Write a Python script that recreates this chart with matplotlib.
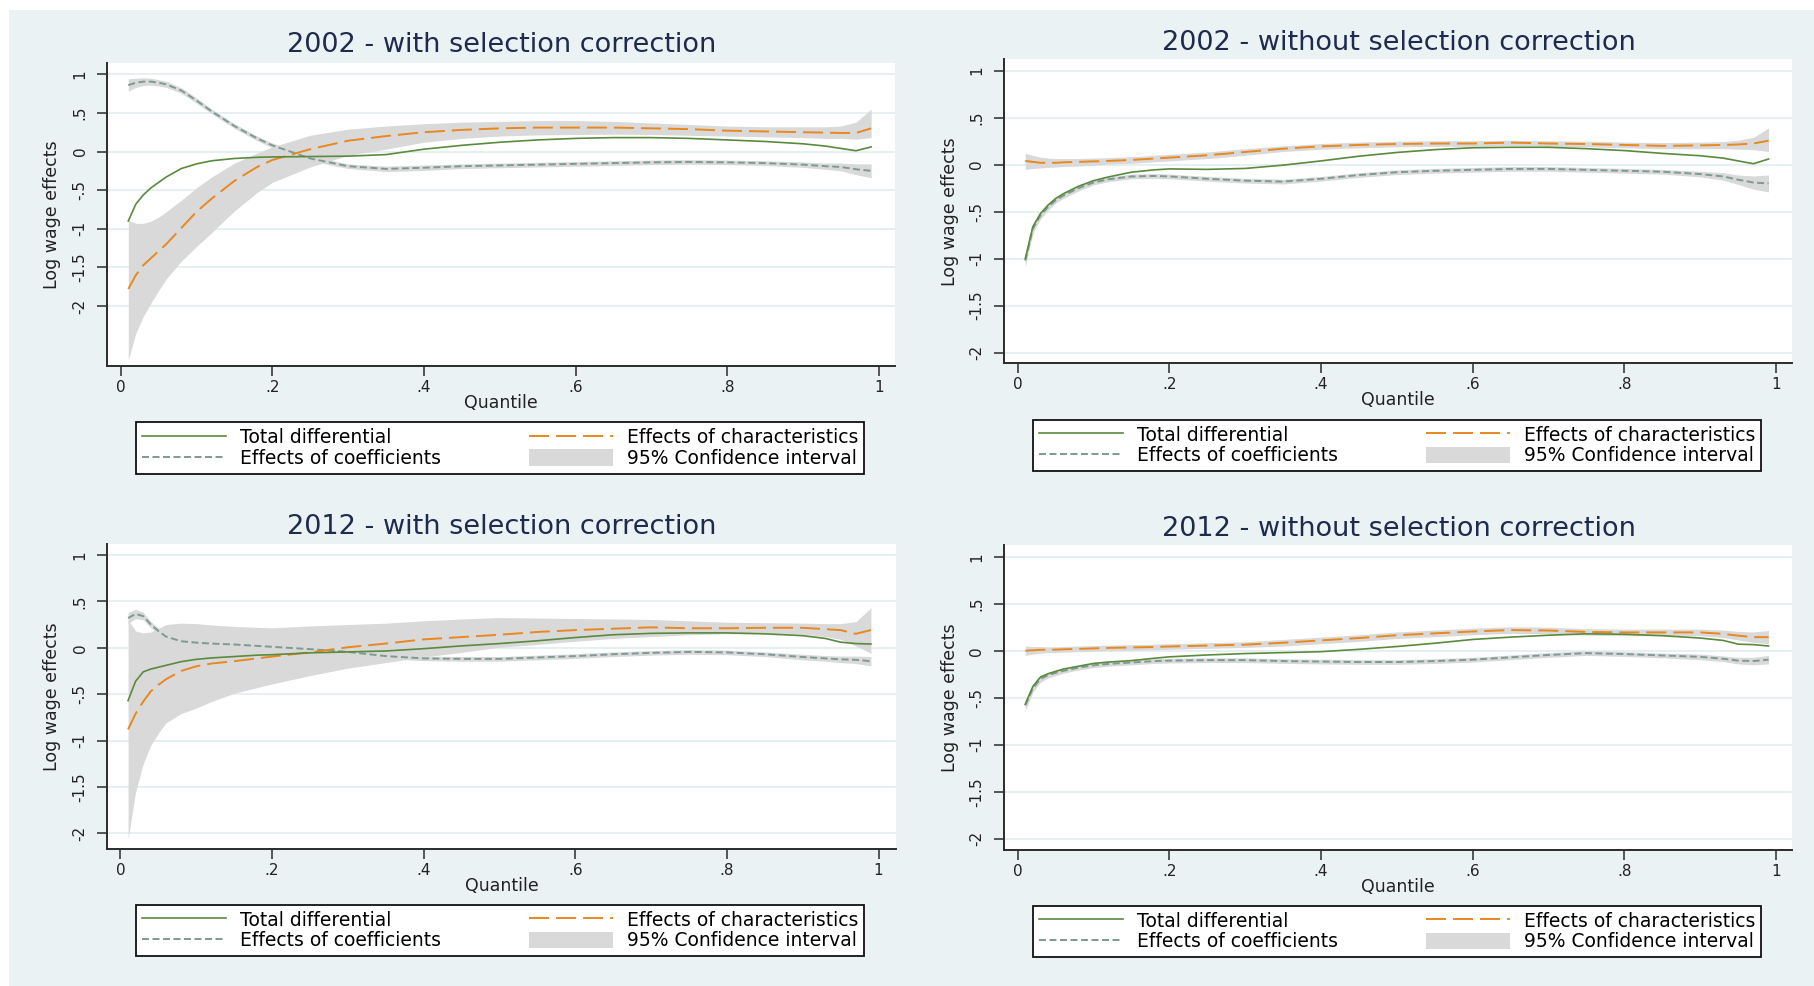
import matplotlib
matplotlib.use("Agg")
import matplotlib.pyplot as plt
from matplotlib.patches import Rectangle, Patch
from matplotlib.lines import Line2D

plt.rcParams['font.family'] = ['DejaVu Sans']

# ---------------- data ----------------
quantiles = [0.01, 0.02, 0.03, 0.04, 0.05, 0.06, 0.08, 0.10, 0.12, 0.15, 0.18, 0.20,
             0.25, 0.30, 0.35, 0.40, 0.45, 0.50, 0.55, 0.60, 0.65, 0.70, 0.75, 0.80,
             0.85, 0.90, 0.93, 0.95, 0.97, 0.99]

titles = ["2002 - with selection correction", "2002 - without selection correction",
          "2012 - with selection correction", "2012 - without selection correction"]

# 2002 with selection correction
total_02s = [-0.90, -0.68, -0.56, -0.47, -0.40, -0.33, -0.22, -0.16, -0.12, -0.09, -0.075, -0.07,
             -0.065, -0.06, -0.04, 0.03, 0.08, 0.12, 0.15, 0.17, 0.18, 0.18, 0.17, 0.15,
             0.13, 0.10, 0.07, 0.04, 0.01, 0.06]
char_02s = [-1.78, -1.60, -1.47, -1.38, -1.29, -1.20, -0.99, -0.78, -0.61, -0.38, -0.20, -0.11,
            0.03, 0.14, 0.20, 0.25, 0.28, 0.30, 0.31, 0.31, 0.31, 0.30, 0.29, 0.27,
            0.26, 0.25, 0.245, 0.24, 0.24, 0.30]
char_hi_02s = [-0.89, -0.93, -0.93, -0.90, -0.85, -0.78, -0.63, -0.47, -0.33, -0.15, -0.02, 0.06,
               0.21, 0.29, 0.33, 0.36, 0.38, 0.39, 0.40, 0.40, 0.39, 0.37, 0.35, 0.33,
               0.32, 0.32, 0.32, 0.33, 0.38, 0.55]
char_lo_02s = [-2.70, -2.35, -2.13, -1.96, -1.80, -1.65, -1.42, -1.23, -1.05, -0.77, -0.53, -0.40,
               -0.20, -0.05, 0.03, 0.12, 0.17, 0.20, 0.215, 0.22, 0.225, 0.22, 0.21, 0.20,
               0.19, 0.18, 0.17, 0.17, 0.16, 0.18]
coef_02s = [0.86, 0.89, 0.905, 0.905, 0.89, 0.87, 0.79, 0.66, 0.52, 0.33, 0.17, 0.08,
            -0.09, -0.19, -0.225, -0.21, -0.19, -0.18, -0.17, -0.16, -0.15, -0.14, -0.135, -0.14,
            -0.15, -0.17, -0.19, -0.20, -0.23, -0.25]
coef_hw_02s = [0.08, 0.06, 0.05, 0.045, 0.04, 0.04, 0.035, 0.035, 0.03, 0.03, 0.03, 0.03,
               0.03, 0.03, 0.035, 0.035, 0.03, 0.03, 0.03, 0.03, 0.03, 0.03, 0.03, 0.03,
               0.03, 0.035, 0.04, 0.05, 0.07, 0.09]

# 2002 without selection correction
total_02n = [-1.00, -0.66, -0.52, -0.43, -0.36, -0.31, -0.23, -0.17, -0.13, -0.08, -0.055, -0.045,
             -0.05, -0.04, -0.005, 0.04, 0.09, 0.13, 0.16, 0.18, 0.185, 0.185, 0.17, 0.15,
             0.12, 0.095, 0.07, 0.04, 0.01, 0.06]
char_02n = [0.04, 0.03, 0.02, 0.02, 0.02, 0.025, 0.03, 0.035, 0.04, 0.05, 0.065, 0.075,
            0.10, 0.135, 0.17, 0.195, 0.21, 0.22, 0.225, 0.225, 0.235, 0.225, 0.22, 0.21,
            0.20, 0.205, 0.21, 0.215, 0.225, 0.255]
char_hi_02n = [0.12, 0.10, 0.08, 0.07, 0.065, 0.065, 0.065, 0.07, 0.075, 0.085, 0.10, 0.11,
               0.135, 0.17, 0.20, 0.225, 0.24, 0.25, 0.255, 0.255, 0.26, 0.255, 0.25, 0.24,
               0.235, 0.24, 0.245, 0.26, 0.29, 0.39]
char_lo_02n = [-0.05, -0.04, -0.035, -0.03, -0.025, -0.02, -0.015, -0.005, 0.005, 0.015, 0.03, 0.04,
               0.065, 0.10, 0.14, 0.165, 0.18, 0.19, 0.195, 0.195, 0.205, 0.195, 0.19, 0.18,
               0.17, 0.17, 0.17, 0.165, 0.16, 0.14]
coef_02n = [-1.02, -0.68, -0.54, -0.45, -0.38, -0.33, -0.25, -0.19, -0.155, -0.125, -0.12, -0.125,
            -0.15, -0.17, -0.18, -0.15, -0.11, -0.08, -0.065, -0.055, -0.045, -0.045, -0.055, -0.065,
            -0.075, -0.10, -0.125, -0.16, -0.19, -0.20]
coef_hw_02n = [0.07, 0.05, 0.04, 0.035, 0.03, 0.03, 0.03, 0.025, 0.025, 0.025, 0.025, 0.025,
               0.025, 0.025, 0.025, 0.025, 0.025, 0.025, 0.025, 0.025, 0.025, 0.025, 0.025, 0.025,
               0.025, 0.03, 0.04, 0.05, 0.07, 0.09]

# 2012 with selection correction
total_12s = [-0.57, -0.36, -0.26, -0.23, -0.21, -0.19, -0.15, -0.125, -0.11, -0.095, -0.08, -0.075,
             -0.055, -0.045, -0.035, -0.01, 0.02, 0.045, 0.075, 0.11, 0.14, 0.155, 0.16, 0.16,
             0.15, 0.13, 0.10, 0.06, 0.045, 0.04]
char_12s = [-0.88, -0.71, -0.58, -0.47, -0.40, -0.34, -0.25, -0.20, -0.17, -0.145, -0.115, -0.095,
            -0.05, 0.005, 0.045, 0.09, 0.115, 0.14, 0.17, 0.19, 0.205, 0.22, 0.21, 0.21,
            0.215, 0.215, 0.20, 0.19, 0.15, 0.19]
char_hi_12s = [0.30, 0.18, 0.16, 0.17, 0.21, 0.25, 0.265, 0.26, 0.245, 0.23, 0.22, 0.215,
               0.235, 0.25, 0.265, 0.29, 0.31, 0.325, 0.32, 0.315, 0.31, 0.305, 0.29, 0.275,
               0.27, 0.265, 0.26, 0.26, 0.28, 0.43]
char_lo_12s = [-2.06, -1.55, -1.25, -1.05, -0.92, -0.81, -0.71, -0.65, -0.58, -0.49, -0.43, -0.39,
               -0.30, -0.22, -0.16, -0.10, -0.05, 0.005, 0.035, 0.07, 0.10, 0.12, 0.14, 0.15,
               0.15, 0.145, 0.12, 0.09, 0.02, -0.06]
coef_12s = [0.32, 0.365, 0.34, 0.25, 0.18, 0.12, 0.07, 0.055, 0.045, 0.035, 0.02, 0.01,
            -0.015, -0.045, -0.09, -0.115, -0.12, -0.12, -0.105, -0.09, -0.07, -0.055, -0.045, -0.05,
            -0.07, -0.10, -0.115, -0.125, -0.13, -0.145]
coef_hw_12s = [0.06, 0.05, 0.04, 0.035, 0.03, 0.03, 0.025, 0.025, 0.025, 0.025, 0.025, 0.025,
               0.025, 0.025, 0.025, 0.025, 0.025, 0.025, 0.025, 0.025, 0.025, 0.025, 0.025, 0.025,
               0.025, 0.03, 0.03, 0.035, 0.04, 0.05]

# 2012 without selection correction
total_12n = [-0.57, -0.38, -0.28, -0.245, -0.22, -0.195, -0.165, -0.135, -0.12, -0.105, -0.08, -0.065,
             -0.045, -0.03, -0.02, -0.01, 0.015, 0.045, 0.08, 0.12, 0.145, 0.165, 0.18, 0.175,
             0.16, 0.135, 0.11, 0.07, 0.065, 0.05]
char_12n = [0.00, 0.005, 0.01, 0.01, 0.012, 0.015, 0.02, 0.025, 0.03, 0.035, 0.04, 0.045,
            0.055, 0.065, 0.085, 0.11, 0.135, 0.165, 0.185, 0.205, 0.22, 0.215, 0.20, 0.195,
            0.195, 0.195, 0.18, 0.16, 0.145, 0.145]
char_hi_12n = [0.05, 0.045, 0.045, 0.04, 0.042, 0.045, 0.05, 0.055, 0.06, 0.065, 0.07, 0.075,
               0.085, 0.095, 0.12, 0.145, 0.17, 0.20, 0.22, 0.24, 0.255, 0.25, 0.235, 0.23,
               0.23, 0.23, 0.22, 0.205, 0.20, 0.215]
char_lo_12n = [-0.05, -0.035, -0.025, -0.02, -0.018, -0.015, -0.01, -0.005, 0.0, 0.005, 0.01, 0.015,
               0.025, 0.035, 0.05, 0.075, 0.10, 0.13, 0.15, 0.17, 0.185, 0.18, 0.165, 0.16,
               0.16, 0.16, 0.14, 0.115, 0.09, 0.075]
coef_12n = [-0.58, -0.40, -0.30, -0.26, -0.235, -0.215, -0.18, -0.155, -0.14, -0.125, -0.11, -0.105,
            -0.10, -0.10, -0.11, -0.115, -0.12, -0.12, -0.11, -0.095, -0.07, -0.045, -0.025, -0.035,
            -0.05, -0.065, -0.085, -0.105, -0.11, -0.095]
coef_hw_12n = [0.06, 0.04, 0.035, 0.03, 0.03, 0.025, 0.025, 0.025, 0.025, 0.025, 0.025, 0.025,
               0.025, 0.025, 0.025, 0.025, 0.025, 0.025, 0.025, 0.025, 0.025, 0.025, 0.025, 0.025,
               0.025, 0.03, 0.03, 0.035, 0.04, 0.045]

x_ticks = [0, 0.2, 0.4, 0.6, 0.8, 1.0]
x_tick_labels = ["0", ".2", ".4", ".6", ".8", "1"]
y_ticks = [1, 0.5, 0, -0.5, -1, -1.5, -2]
y_tick_labels = ["1", ".5", "0", "-.5", "-1", "-1.5", "-2"]
legend_labels = ["Total differential", "Effects of coefficients",
                 "Effects of characteristics", "95% Confidence interval"]

series = [
    (total_02s, char_02s, char_lo_02s, char_hi_02s, coef_02s, coef_hw_02s),
    (total_02n, char_02n, char_lo_02n, char_hi_02n, coef_02n, coef_hw_02n),
    (total_12s, char_12s, char_lo_12s, char_hi_12s, coef_12s, coef_hw_12s),
    (total_12n, char_12n, char_lo_12n, char_hi_12n, coef_12n, coef_hw_12n),
]

# ---------------- layout (pixels) ----------------
W, H = 1814, 986
BG = '#EAF2F3'
C_TOTAL = '#5A8A3C'
C_CHAR = '#E8881E'
C_COEF = '#7D9A93'
C_CI = '#D9D9D9'
C_TITLE = '#1E2B4E'

panels = [
    dict(box=(107.3, 62.7, 894.5, 366.0), xlim=(-0.0177, 1.0208), ylim=(-2.777, 1.150),
         title=(502, 45), leg=(136, 421, 864, 475), ylab_x=52),
    dict(box=(1003.8, 59.3, 1791.9, 363.3), xlim=(-0.0183, 1.0208), ylim=(-2.113, 1.121),
         title=(1399, 43), leg=(1033, 418, 1761, 473), ylab_x=949.5),
    dict(box=(107.3, 544.0, 895.5, 849.0), xlim=(-0.0174, 1.0224), ylim=(-2.169, 1.118),
         title=(502, 527), leg=(136, 903, 864, 958), ylab_x=52),
    dict(box=(1003.8, 545.0, 1791.9, 850.0), xlim=(-0.0183, 1.0208), ylim=(-2.12, 1.125),
         title=(1399, 529), leg=(1033, 904, 1761, 959), ylab_x=949.5),
]

fig = plt.figure(figsize=(W / 100, H / 100), dpi=100, facecolor='white')
fig.patches.append(Rectangle((9 / W, 0), 1 - 9 / W, 1 - 10 / H, transform=fig.transFigure,
                             facecolor=BG, edgecolor='none', zorder=-10))

for i, p in enumerate(panels):
    l, t, r, b = p['box']
    ax = fig.add_axes([l / W, 1 - b / H, (r - l) / W, (b - t) / H])
    total, ch, ch_lo, ch_hi, coef, coef_hw = series[i]
    coef_lo = [c - h for c, h in zip(coef, coef_hw)]
    coef_hi = [c + h for c, h in zip(coef, coef_hw)]

    ax.set_facecolor('white')
    ax.fill_between(quantiles, ch_lo, ch_hi, color=C_CI, lw=0, zorder=1)
    ax.fill_between(quantiles, coef_lo, coef_hi, color=C_CI, lw=0, zorder=1)
    ax.plot(quantiles, coef, color=C_COEF, lw=1.4, ls=(0, (3.6, 1.8)), zorder=3)
    ax.plot(quantiles, ch, color=C_CHAR, lw=1.4, ls=(0, (10.3, 3.6)), zorder=3)
    ax.plot(quantiles, total, color=C_TOTAL, lw=1.2, ls='-', zorder=4)

    ax.set_xlim(*p['xlim'])
    ax.set_ylim(*p['ylim'])
    ax.set_xticks(x_ticks)
    ax.set_xticklabels(x_tick_labels)
    ax.set_yticks(y_ticks)
    ax.set_yticklabels(y_tick_labels, rotation=90, va='center')
    ax.yaxis.grid(True, color='#E3EDEF', lw=1.2, zorder=0)
    ax.set_axisbelow(True)
    for s in ('top', 'right'):
        ax.spines[s].set_visible(False)
    for s in ('left', 'bottom'):
        ax.spines[s].set_color('#2b2b2b')
        ax.spines[s].set_linewidth(1.4)
    ax.tick_params(axis='both', direction='out', length=7.2, width=1.1, color='#2b2b2b',
                   labelsize=11, labelcolor='#222222')
    ax.tick_params(axis='x', pad=3)
    ax.tick_params(axis='y', pad=7)

    axw = r - l
    axh = b - t
    ax.set_xlabel('Quantile', fontsize=12.5, color='#222222')
    ax.xaxis.set_label_coords(0.5, -(403 - 366) / axh)
    ax.xaxis.label.set_verticalalignment('center')
    ax.set_ylabel('Log wage effects', fontsize=12.5, color='#222222')
    ax.yaxis.set_label_coords((p['ylab_x'] - l) / axw, 0.5)
    ax.yaxis.label.set_verticalalignment('center')

    tx, ty = p['title']
    fig.text(tx / W, 1 - ty / H, titles[i], ha='center', va='center', fontsize=19.5,
             color=C_TITLE)

    handles = [Line2D([], [], color=C_TOTAL, lw=1.2),
               Line2D([], [], color=C_COEF, lw=1.4, ls=(0, (3.6, 1.8))),
               Line2D([], [], color=C_CHAR, lw=1.4, ls=(0, (10.3, 3.6))),
               Patch(facecolor=C_CI, edgecolor='none')]
    ll, lt, lr, lb = p['leg']
    leg = ax.legend(handles, legend_labels, loc='center', ncol=2, mode='expand',
                    bbox_to_anchor=(ll / W, 1 - lb / H, (lr - ll) / W, (lb - lt) / H),
                    bbox_transform=fig.transFigure, fontsize=13.5, frameon=True,
                    fancybox=False, framealpha=1, edgecolor='#111111', facecolor='white',
                    handlelength=4.5, handleheight=1.0, handletextpad=0.75,
                    borderpad=0.3, labelspacing=0.1, borderaxespad=0)
    leg.get_frame().set_linewidth(1.3)

fig.savefig('out.png', dpi=100, facecolor='white')
